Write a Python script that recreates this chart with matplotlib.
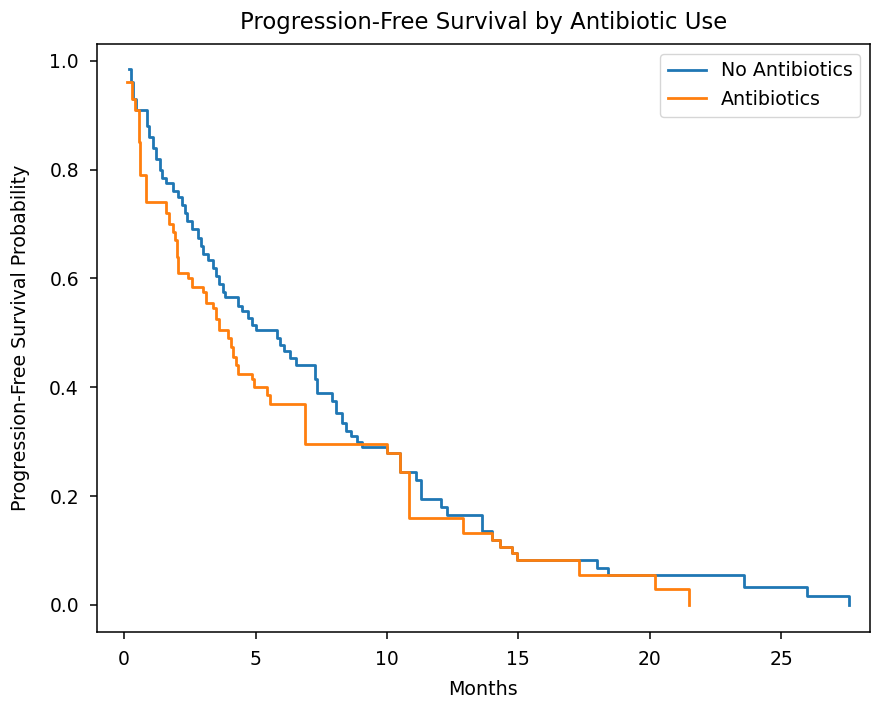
import matplotlib
matplotlib.use("Agg")
import matplotlib.pyplot as plt

# step times (months) and survival after each step
no_abx_t = [0.20, 0.28, 0.35, 0.45, 0.87, 0.95, 1.10, 1.20, 1.35, 1.45, 1.60, 1.85,
            2.05, 2.20, 2.30, 2.40, 2.60, 2.80, 2.92, 3.02, 3.20, 3.40, 3.50, 3.62,
            3.75, 3.85, 4.35, 4.50, 4.70, 4.85, 5.00, 5.80, 5.95, 6.10, 6.30, 6.55,
            7.25, 7.35, 7.90, 8.05, 8.30, 8.45, 8.65, 8.85, 9.05, 10.0, 10.5, 11.1,
            11.3, 12.05, 12.3, 13.6, 14.0, 14.3, 14.75, 14.95, 18.0, 18.4, 23.6, 26.0,
            27.6]
no_abx_s = [0.985, 0.96, 0.93, 0.91, 0.88, 0.86, 0.84, 0.82, 0.80, 0.785, 0.775, 0.76,
            0.75, 0.735, 0.72, 0.705, 0.69, 0.675, 0.66, 0.645, 0.633, 0.62, 0.605, 0.59,
            0.575, 0.565, 0.55, 0.54, 0.527, 0.515, 0.505, 0.49, 0.478, 0.466, 0.454, 0.44,
            0.415, 0.39, 0.375, 0.352, 0.335, 0.32, 0.31, 0.30, 0.29, 0.28, 0.244, 0.23,
            0.195, 0.18, 0.165, 0.135, 0.12, 0.106, 0.095, 0.083, 0.068, 0.055, 0.033, 0.017,
            0.0]

abx_t = [0.12, 0.30, 0.40, 0.55, 0.62, 0.85, 1.60, 1.70, 1.85, 1.95, 2.00, 2.05,
         2.45, 2.60, 3.00, 3.10, 3.40, 3.50, 3.60, 3.95, 4.05, 4.15, 4.25, 4.35,
         4.85, 4.95, 5.45, 5.55, 6.90, 10.0, 10.5, 10.85, 12.9, 14.0, 14.3, 14.75,
         14.95, 17.3, 20.2, 21.5]
abx_s = [0.96, 0.93, 0.91, 0.85, 0.79, 0.74, 0.72, 0.70, 0.685, 0.67, 0.64, 0.61,
         0.60, 0.585, 0.575, 0.555, 0.545, 0.525, 0.505, 0.49, 0.474, 0.455, 0.44, 0.425,
         0.415, 0.40, 0.385, 0.37, 0.295, 0.28, 0.244, 0.16, 0.132, 0.12, 0.106, 0.095,
         0.083, 0.055, 0.03, 0.0]

fig = plt.figure(figsize=(8.79, 7.04), dpi=100)
ax = fig.add_axes([0.1104, 0.102, 0.879, 0.835])

ax.step(no_abx_t, no_abx_s, where='post', color='#1f77b4', lw=2, label='No Antibiotics')
ax.step(abx_t, abx_s, where='post', color='#ff7f0e', lw=2, label='Antibiotics')

ax.set_xlim(-1.03, 28.37)
ax.set_ylim(-0.05, 1.03)
ax.set_xticks([0, 5, 10, 15, 20, 25])
ax.set_yticks([0.0, 0.2, 0.4, 0.6, 0.8, 1.0])
ax.tick_params(labelsize=13.5, length=5, width=1.1, pad=8)
for sp in ax.spines.values():
    sp.set_linewidth(1.1)

ax.set_title('Progression-Free Survival by Antibiotic Use', fontsize=16.4, pad=11)
ax.set_xlabel('Months', fontsize=13.7, labelpad=8)
ax.set_ylabel('Progression-Free Survival Probability', fontsize=13.7, labelpad=14)
ax.legend(loc='upper right', fontsize=13.7)

fig.savefig('out.png', dpi=100)
